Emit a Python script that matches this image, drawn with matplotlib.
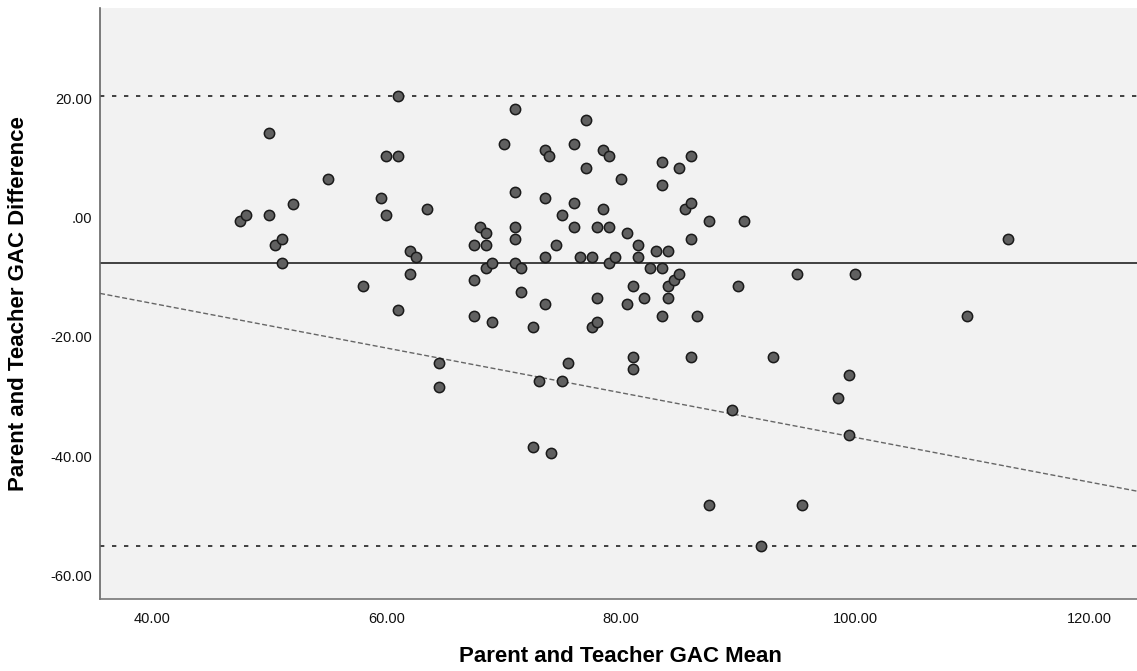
"""Bland-Altman plot: parent vs teacher GAC scores."""
import matplotlib
matplotlib.use('Agg')
import matplotlib.pyplot as plt

# Data.
gac_mean = [
    47.5, 48.0, 50.0, 50.0, 50.5, 51.1, 51.1, 52.0, 55.0, 58.0,
    59.5, 60.0, 60.0, 61.0, 61.0, 61.0, 62.0, 62.5, 62.0, 63.5,
    64.5, 64.5, 67.5, 67.5, 67.5, 68.0, 68.5, 68.5, 68.5, 69.0,
    69.0, 70.0, 71.0, 71.0, 71.0, 71.0, 71.0, 71.5, 71.5, 72.5,
    72.5, 73.0, 73.5, 73.5, 73.5, 73.5, 73.9, 74.0, 74.5, 75.0,
    75.0, 75.5, 76.0, 76.0, 76.0, 76.5, 77.0, 77.0, 77.5, 77.5,
    78.0, 78.0, 78.0, 78.5, 78.5, 79.0, 79.0, 79.0, 79.5, 80.0,
    80.5, 80.5, 81.0, 81.0, 81.0, 81.5, 81.5, 82.0, 82.5, 83.0,
    83.5, 83.5, 83.5, 83.5, 84.0, 84.0, 84.0, 84.5, 85.0, 85.0,
    85.5, 86.0, 86.0, 86.0, 86.0, 86.5, 87.5, 87.5, 89.5, 90.0,
    90.5, 92.0, 93.0, 95.0, 95.5, 98.5, 99.5, 99.5, 100.0, 109.5,
    113.0,
]
gac_diff = [
    -0.6, 0.4, 14.3, 0.4, -4.6, -3.6, -7.5, 2.4, 6.5, -11.5,
    3.4, 10.4, 0.4, 20.4, 10.4, -15.4, -5.5, -6.5, -9.4, 1.5,
    -24.4, -28.4, -4.5, -10.4, -16.4, -1.5, -2.5, -4.5, -8.5, -7.5,
    -17.4, 12.4, 18.3, 4.4, -1.5, -3.5, -7.5, -8.5, -12.4, -18.4,
    -38.4, -27.4, 11.4, 3.4, -6.5, -14.4, 10.4, -39.4, -4.5, 0.5,
    -27.4, -24.4, 12.4, 2.5, -1.5, -6.5, 16.4, 8.4, -6.5, -18.4,
    -1.5, -13.4, -17.4, 11.4, 1.5, 10.4, -1.5, -7.5, -6.5, 6.5,
    -2.5, -14.4, -11.4, -23.4, -25.4, -4.5, -6.5, -13.4, -8.5, -5.5,
    9.4, 5.5, -8.5, -16.4, -5.5, -11.4, -13.4, -10.4, 8.4, -9.4,
    1.5, 10.4, 2.5, -3.5, -23.4, -16.4, -0.5, -48.2, -32.3, -11.4,
    -0.5, -55.1, -23.4, -9.5, -48.2, -30.3, -26.4, -36.4, -9.5, -16.4,
    -3.6,
]

# Reference lines: mean difference and limits of agreement.
mean_diff = -7.6
upper_loa = 20.4
lower_loa = -55.1

# Proportional bias regression line (intercept, slope).
reg_intercept = 0.65
reg_slope = -0.375

x_ticks = [40, 60, 80, 100, 120]
x_tick_labels = ['40.00', '60.00', '80.00', '100.00', '120.00']
y_ticks = [-60, -40, -20, 0, 20]
y_tick_labels = ['-60.00', '-40.00', '-20.00', '.00', '20.00']

x_limits = (35.56, 124.05)
y_limits = (-64.0, 35.2)


def main():
    plt.rcParams['font.family'] = ['Liberation Sans', 'DejaVu Sans']

    fig = plt.figure(figsize=(11.37, 6.71), dpi=100)
    ax = fig.add_axes([0.088, 0.107, 0.912, 0.881])
    ax.set_facecolor('#f2f2f2')

    # horizontal reference lines
    ax.axhline(upper_loa, color='#222222', lw=1.2, ls=(0, (2.6, 4.6)), zorder=1)
    ax.axhline(lower_loa, color='#222222', lw=1.2, ls=(0, (2.6, 4.6)), zorder=1)
    ax.axhline(mean_diff, color='#333333', lw=1.3, zorder=1)

    # regression line across the whole x range
    xs = list(x_limits)
    ys = [reg_intercept + reg_slope * v for v in xs]
    ax.plot(xs, ys, color='#666666', lw=1.0, ls=(0, (3.6, 1.8)), zorder=1)

    ax.scatter(gac_mean, gac_diff, s=55, facecolor='#606060',
               edgecolor='#1a1a1a', linewidth=1.1, zorder=3)

    ax.set_xlim(*x_limits)
    ax.set_ylim(*y_limits)
    ax.set_xticks(x_ticks)
    ax.set_xticklabels(x_tick_labels)
    ax.set_yticks(y_ticks)
    ax.set_yticklabels(y_tick_labels)
    ax.tick_params(axis='both', length=0, labelsize=10.5, colors='#111111')
    ax.tick_params(axis='y', pad=6)
    ax.tick_params(axis='x', pad=9)

    for side in ['top', 'right']:
        ax.spines[side].set_visible(False)
    ax.spines['left'].set_color('#666666')
    ax.spines['bottom'].set_color('#777777')
    ax.spines['left'].set_linewidth(1.2)
    ax.spines['bottom'].set_linewidth(1.2)

    ax.set_xlabel('Parent and Teacher GAC Mean', fontsize=16, fontweight='bold')
    ax.set_ylabel('Parent and Teacher GAC Difference', fontsize=16, fontweight='bold')
    ax.xaxis.set_label_coords(0.502, -0.08)
    ax.yaxis.set_label_coords(-0.069, 0.5)

    fig.savefig('out.png', dpi=100, facecolor='white')


if __name__ == '__main__':
    main()
